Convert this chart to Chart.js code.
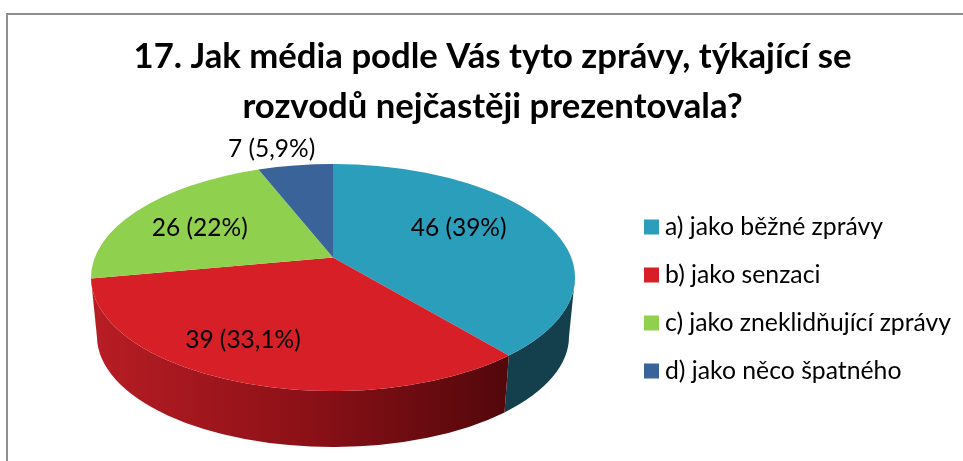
<!DOCTYPE html>
<html lang="cs">
<head>
  <meta charset="UTF-8" />
  <title>17. Jak média</title>
  <script src="https://cdn.jsdelivr.net/npm/chart.js"></script>
  <style>
    html, body { margin: 0; padding: 0; background: white; overflow: hidden; }
    #frame { position: absolute; left: 6px; top: 13px; right: 0; bottom: 0; border-left: 2px solid #8e8e8e; border-top: 2px solid #8e8e8e; }
    canvas { position: absolute; left: 0; top: 0; }
  </style>
</head>
<body>
  <div id="frame"></div>
  <canvas id="pie" width="963" height="461"></canvas>
  <script>
    const titleLines = ['17. Jak média podle Vás tyto zprávy, týkající se', 'rozvodů nejčastěji prezentovala?'];
    const categories = ['a) jako běžné zprávy', 'b) jako senzaci', 'c) jako zneklidňující zprávy', 'd) jako něco špatného'];
    const values = [46, 39, 26, 7];
    const valueLabels = ['46 (39%)', '39 (33,1%)', '26 (22%)', '7 (5,9%)'];
    const colors = ['#2b9ebc', '#d71f27', '#90d04f', '#3a6399'];

    // label placement around each slice: share of radius, turn in degrees
    const labelRadius = [0.62, 0.74, 0.65, 1.23];
    const labelTurn = [-7, 7, -3.5, -4];

    const pieBox = { left: 91, right: 575, top: 164, bottom: 391 };
    const tilt = -0.176;   // moves the apex up from the ellipse centre
    const depth = 59;
    const bottomShrink = 6;

    // pie angle -> point on the tilted face, relative to ellipse centre
    function project(angle, r, rx, ry) {
      const u = r * Math.cos(angle), v = r * Math.sin(angle);
      const w = 1 + tilt * v;
      return {
        x: rx * Math.sqrt(1 - tilt * tilt) * u / w,
        y: ry * (v + tilt) / w
      };
    }

    function rimAngle(angle, rx, ry) {
      const p = project(angle, 1, rx, ry);
      let t = Math.atan2(p.y / ry, p.x / rx);
      if (t < -Math.PI / 2) t += Math.PI * 2;
      return t;
    }

    const pie3d = {
      id: 'pie3d',
      afterLayout(chart) {
        const b = pieBox;
        chart.chartArea = { left: b.left, right: b.right, top: b.top, bottom: b.bottom, width: b.right - b.left, height: b.bottom - b.top };
        const lg = chart.legend;
        const w = lg.right - lg.left;
        lg.left = 627.125;
        lg.right = lg.left + w;
        lg.top = 191.375;
      },
      beforeDatasetDraw(chart, args) {
        const ctx = chart.ctx;
        const rx = chart.chartArea.width / 2, ry = chart.chartArea.height / 2;
        const arcs = args.meta.data;
        const cx = arcs[0].x, cy = arcs[0].y;
        const rx2 = rx - bottomShrink, ry2 = ry - 3, cy2 = cy + depth;

        const wallPaint = ctx.createLinearGradient(cx - rx, 0, cx + rx * 0.75, 0);
        wallPaint.addColorStop(0, '#b81d24');
        wallPaint.addColorStop(0.5, '#8c1117');
        wallPaint.addColorStop(1, '#50070b');
        const walls = ['#14404e', wallPaint, '#5f8a33', '#25405f'];

        ctx.save();
        arcs.forEach((arc, i) => {
          let t0 = rimAngle(arc.startAngle, rx, ry), t1 = rimAngle(arc.endAngle, rx, ry);
          if (t1 < t0) t1 += Math.PI * 2;
          const s = Math.max(t0, 0), e = Math.min(t1, Math.PI);
          if (e <= s) return;
          ctx.beginPath();
          ctx.ellipse(cx, cy, rx, ry, 0, s, e);
          ctx.ellipse(cx, cy2, rx2, ry2, 0, e, s, true);
          ctx.closePath();
          ctx.fillStyle = walls[i];
          ctx.fill();
        });
        arcs.forEach((arc, i) => {
          const t0 = rimAngle(arc.startAngle, rx, ry), t1 = rimAngle(arc.endAngle, rx, ry);
          ctx.beginPath();
          ctx.moveTo(cx, cy + project(0, 0, rx, ry).y);
          ctx.ellipse(cx, cy, rx, ry, 0, t0, t1);
          ctx.closePath();
          ctx.fillStyle = colors[i];
          ctx.fill();
        });
        ctx.font = '24.5px Lato';
        ctx.fillStyle = '#000';
        ctx.textAlign = 'center';
        ctx.textBaseline = 'middle';
        arcs.forEach((arc, i) => {
          const mid = (arc.startAngle + arc.endAngle) / 2 + labelTurn[i] * Math.PI / 180;
          const p = project(mid, labelRadius[i], rx, ry);
          ctx.fillText(valueLabels[i], cx + p.x, cy + p.y);
        });
        ctx.restore();
        return false;
      }
    };

    new Chart(document.getElementById('pie'), {
      type: 'pie',
      data: {
        labels: categories,
        datasets: [{ data: values, backgroundColor: colors, borderWidth: 0 }]
      },
      options: {
        responsive: false,
        animation: false,
        layout: { padding: { left: 22 } },
        plugins: {
          title: {
            display: true,
            text: titleLines,
            color: '#000',
            font: { family: 'Lato', size: 34.7, weight: 'bold', lineHeight: 1.44 },
            padding: { top: 32, bottom: 0 }
          },
          legend: {
            position: 'right',
            align: 'start',
            labels: {
              color: '#000',
              font: { family: 'Lato', size: 24.75 },
              boxWidth: 2.25,
              boxHeight: 2.25,
              padding: 23.25,
              generateLabels(chart) {
                return categories.map((text, i) => ({
                  text, fillStyle: colors[i], strokeStyle: colors[i], lineWidth: 12.75, index: i
                }));
              }
            }
          },
          tooltip: { enabled: false }
        }
      },
      plugins: [pie3d]
    });
  </script>
</body>
</html>
